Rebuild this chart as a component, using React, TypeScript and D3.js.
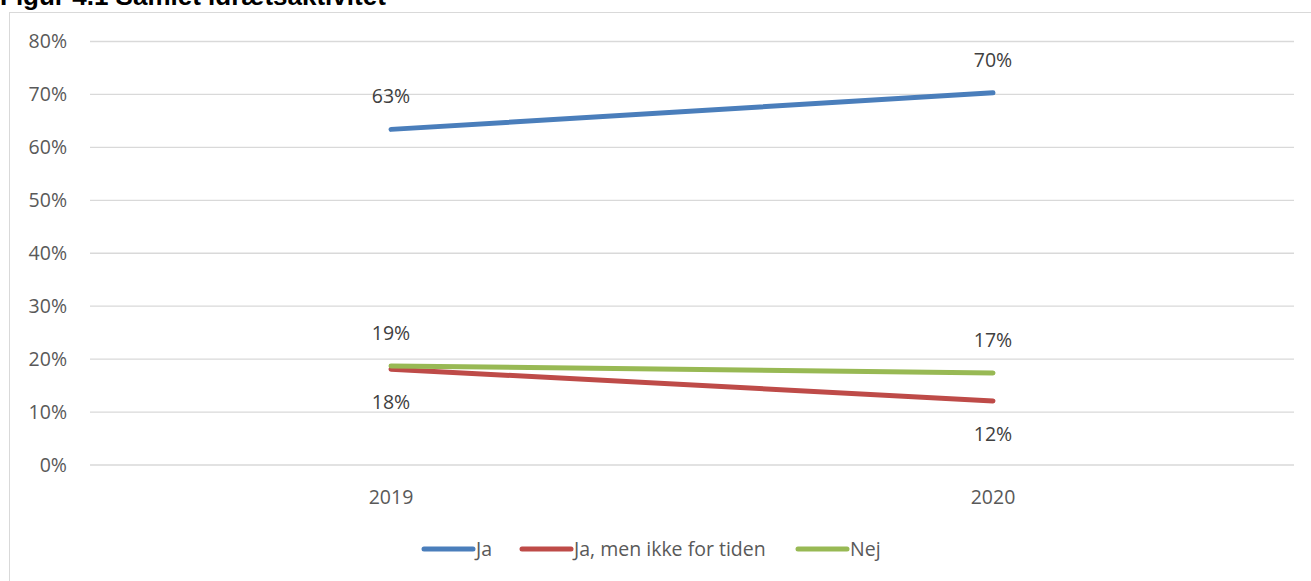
import React, { useEffect, useRef } from 'react';
import * as d3 from 'd3';

const years = ['2019', '2020'];
const seriesNames = ['Ja', 'Ja, men ikke for tiden', 'Nej'];
const jaValues = [0.634, 0.703];
const jaMenValues = [0.181, 0.121];
const nejValues = [0.187, 0.174];
const yTicks = [0, 0.1, 0.2, 0.3, 0.4, 0.5, 0.6, 0.7, 0.8];

const colors = ['#4a7ebb', '#be4b48', '#98b954'];
const FONT = '"Open Sans", sans-serif';

const App: React.FC = () => {
    const ref = useRef<SVGSVGElement | null>(null);

    useEffect(() => {
        if (!ref.current) return;
        const svg = d3.select(ref.current);
        svg.selectAll('*').remove();

        const width = 1311;
        const height = 581;
        svg.attr('width', width).attr('height', height);

        // chart frame
        svg.append('rect')
            .attr('x', 9.5).attr('y', 12.5)
            .attr('width', width + 20).attr('height', height + 20)
            .attr('fill', 'white')
            .attr('stroke', '#d9d9d9');

        // title is partly cut at the top, as in the source image
        svg.append('text')
            .attr('x', 0).attr('y', 5)
            .text('Figur 4.1 Samlet idrætsaktivitet')
            .style('font-family', '"Liberation Sans", Arial, sans-serif')
            .style('font-weight', 'bold')
            .style('font-size', '26px')
            .style('fill', '#000');

        const left = 90, right = 1294, top = 41.5, bottom = 465;

        const x = d3.scaleBand().domain(years).range([left, right]);
        const y = d3.scaleLinear().domain([0, 0.8]).range([bottom, top]);
        const xc = (d: string) => (x(d) as number) + x.bandwidth() / 2;

        const grid = svg.append('g');
        grid.selectAll('line')
            .data(yTicks)
            .enter().append('line')
            .attr('x1', left).attr('x2', right)
            .attr('y1', d => y(d)).attr('y2', d => y(d))
            .attr('stroke', '#d9d9d9')
            .attr('stroke-width', 1.3);

        const fmt = d3.format('.0%');
        svg.append('g').selectAll('text')
            .data(yTicks)
            .enter().append('text')
            .attr('x', 67)
            .attr('y', d => y(d))
            .attr('dy', '0.35em')
            .attr('text-anchor', 'end')
            .text(d => fmt(d))
            .style('font-family', FONT)
            .style('font-size', '19.5px')
            .style('fill', '#595959');

        svg.append('g').selectAll('text')
            .data(years)
            .enter().append('text')
            .attr('x', d => xc(d))
            .attr('y', 504)
            .attr('text-anchor', 'middle')
            .text(d => d)
            .style('font-family', FONT)
            .style('font-size', '19.5px')
            .style('fill', '#595959');

        const series = [jaValues, jaMenValues, nejValues];
        // label side: above (-1) or below (+1) the point
        const labelSide = [[-1, -1], [1, 1], [-1, -1]];

        const line = d3.line<number>()
            .x((_d, i) => xc(years[i]))
            .y(d => y(d));

        [0, 1, 2].forEach(si => {
            svg.append('path')
                .datum(series[si])
                .attr('d', line)
                .attr('fill', 'none')
                .attr('stroke', colors[si])
                .attr('stroke-width', 5)
                .attr('stroke-linecap', 'round');
        });

        [0, 1, 2].forEach(si => {
            svg.append('g').selectAll('text')
                .data(series[si])
                .enter().append('text')
                .attr('x', (_d, i) => xc(years[i]))
                .attr('y', (d, i) => y(d) + labelSide[si][i] * 33)
                .attr('dy', '0.35em')
                .attr('text-anchor', 'middle')
                .text(d => fmt(d))
                .style('font-family', FONT)
                .style('font-size', '19.5px')
                .style('fill', '#404040');
        });

        // legend
        const legendX = [422, 520, 796];
        const lg = svg.append('g');
        seriesNames.forEach((name, i) => {
            lg.append('line')
                .attr('x1', legendX[i] + 2).attr('x2', legendX[i] + 51)
                .attr('y1', 549).attr('y2', 549)
                .attr('stroke', colors[i])
                .attr('stroke-width', 5)
                .attr('stroke-linecap', 'round');
            lg.append('text')
                .attr('x', legendX[i] + 54)
                .attr('y', 549)
                .attr('dy', '0.35em')
                .text(name)
                .style('font-family', FONT)
                .style('font-size', '19.5px')
                .style('fill', '#595959');
        });
    }, []);

    return (
        <svg ref={ref} style={{ position: 'absolute', left: 0, top: 0, display: 'block' }}></svg>
    );
};

export default App;
